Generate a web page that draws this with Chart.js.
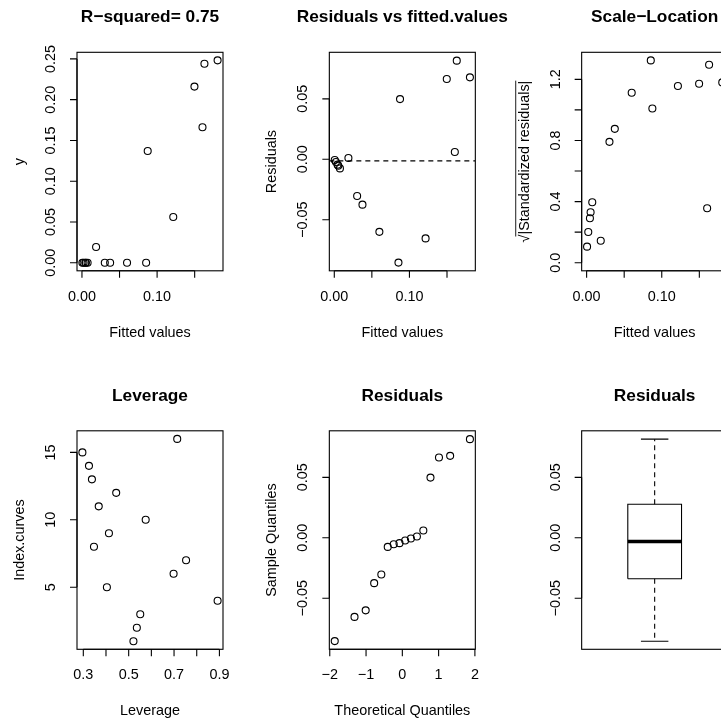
<!DOCTYPE html>
<html>
<head>
<meta charset="utf-8">
<title>lm diagnostics</title>
<script src="https://cdn.jsdelivr.net/npm/chart.js@4.4.1/dist/chart.umd.min.js"></script>
<style>
  html, body { margin: 0; padding: 0; background: #fff; }
  #wrap { position: relative; width: 721px; height: 719px; overflow: hidden; }
  #wrap canvas { position: absolute; left: 0; top: 0; }
</style>
</head>
<body>
<div id="wrap">
  <canvas id="fitPlot" width="760" height="760"></canvas>
  <canvas id="residPlot" width="760" height="760"></canvas>
  <canvas id="scalePlot" width="760" height="760"></canvas>
  <canvas id="levPlot" width="760" height="760"></canvas>
  <canvas id="qqPlot" width="760" height="760"></canvas>
  <canvas id="boxPlot" width="760" height="760"></canvas>
</div>
<script>
// one entry per curve, in the order of the fitted values
const fittedValues = [0.0006, 0.0022, 0.0044, 0.0053, 0.0075, 0.0188, 0.0304, 0.0375, 0.0600, 0.0854, 0.0875, 0.1215, 0.1497, 0.1604, 0.1630, 0.1805];
const observedY    = [0, 0, 0, 0, 0, 0.0193, 0, 0, 0, 0, 0.1370, 0.0561, 0.2160, 0.1662, 0.2440, 0.2482];
const residuals    = [-0.0006, -0.0022, -0.0044, -0.0053, -0.0075, 0.0011, -0.0304, -0.0375, -0.0600, -0.0854, 0.0498, -0.0654, 0.0664, 0.0060, 0.0816, 0.0678];
const sqrtStdResid = [0.105, 0.201, 0.291, 0.330, 0.396, 0.144, 0.791, 0.876, 1.112, 1.324, 1.009, 1.156, 1.171, 0.356, 1.296, 1.180];
const residLevel = -0.0013;

// hat values by curve index
const curveIndex = [1, 2, 3, 4, 5, 6, 7, 8, 9, 10, 11, 12, 13, 14, 15, 16];
const leverage   = [0.521, 0.536, 0.551, 0.892, 0.404, 0.698, 0.753, 0.347, 0.413, 0.575, 0.368, 0.445, 0.338, 0.325, 0.296, 0.714];

// normal quantiles for n = 16
const theoQuantiles = [-1.863, -1.318, -1.010, -0.776, -0.579, -0.402, -0.237, -0.078, 0.078, 0.237, 0.402, 0.579, 0.776, 1.010, 1.318, 1.863];
const sampleQuantiles = residuals.slice().sort((a, b) => a - b);

// lower whisker, lower hinge, median, upper hinge, upper whisker
const boxStats = [-0.0855, -0.0339, -0.0031, 0.0278, 0.0816];

// tick positions and their labels ('' = tick only)
const fitTicks   = [0, 0.05, 0.10, 0.15];
const fitLabels  = ['0.00', '', '0.10', ''];
const yTicks     = [0, 0.05, 0.10, 0.15, 0.20, 0.25];
const yLabels    = ['0.00', '0.05', '0.10', '0.15', '0.20', '0.25'];
const resTicks   = [-0.05, 0, 0.05];
const resLabels  = ['\u22120.05', '0.00', '0.05'];
const slTicks    = [0, 0.2, 0.4, 0.6, 0.8, 1.0, 1.2];
const slLabels   = ['0.0', '', '0.4', '', '0.8', '', '1.2'];
const levTicks   = [0.3, 0.4, 0.5, 0.6, 0.7, 0.8, 0.9];
const levLabels  = ['0.3', '', '0.5', '', '0.7', '', '0.9'];
const idxTicks   = [5, 10, 15];
const idxLabels  = ['5', '10', '15'];
const qqTicks    = [-2, -1, 0, 1, 2];
const qqLabels   = ['\u22122', '\u22121', '0', '1', '2'];

// page layout (2 x 3 panels)
const CANVAS = 760;
const PANEL_W = 252.33, PANEL_H = 378.5;
const BOX_LEFT = 77, BOX_TOP = 52.3, BOX_W = 146, BOX_H = 218.5;
const FONT = '"Liberation Sans", Arial, Helvetica, sans-serif';
const AXIS_PX = 14.4, MAIN_PX = 17.3;

function rAxes(spec) {
  return {
    id: 'rAxes',
    afterDraw(chart) {
      const { ctx, chartArea: a, scales } = chart;
      ctx.save();
      ctx.strokeStyle = '#000';
      ctx.fillStyle = '#000';
      ctx.lineWidth = 1.1;
      ctx.strokeRect(a.left, a.top, a.right - a.left, a.bottom - a.top);
      ctx.font = AXIS_PX + 'px ' + FONT;
      ctx.textAlign = 'center';
      ctx.textBaseline = 'middle';

      if (spec.xTicks) {
        const px = spec.xTicks.map(v => scales.x.getPixelForValue(v));
        ctx.beginPath();
        ctx.moveTo(px[0], a.bottom);
        ctx.lineTo(px[px.length - 1], a.bottom);
        px.forEach(p => { ctx.moveTo(p, a.bottom); ctx.lineTo(p, a.bottom + 7); });
        ctx.stroke();
        spec.xLabels.forEach((t, i) => { if (t) ctx.fillText(t, px[i], a.bottom + 26); });
      }
      if (spec.yTicks) {
        const py = spec.yTicks.map(v => scales.y.getPixelForValue(v));
        ctx.beginPath();
        ctx.moveTo(a.left, py[0]);
        ctx.lineTo(a.left, py[py.length - 1]);
        py.forEach(p => { ctx.moveTo(a.left, p); ctx.lineTo(a.left - 7, p); });
        ctx.stroke();
        spec.yLabels.forEach((t, i) => {
          if (!t) return;
          ctx.save();
          ctx.translate(a.left - 26, py[i]);
          ctx.rotate(-Math.PI / 2);
          ctx.fillText(t, 0, 0);
          ctx.restore();
        });
      }
      const cx = (a.left + a.right) / 2, cy = (a.top + a.bottom) / 2;
      if (spec.xlab) ctx.fillText(spec.xlab, cx, a.bottom + 62);
      if (spec.ylab) {
        ctx.save();
        ctx.translate(a.left - 57, cy);
        ctx.rotate(-Math.PI / 2);
        if (spec.sqrtLab) {
          const root = '\u221A';
          const wr = ctx.measureText(root).width, wt = ctx.measureText(spec.ylab).width;
          const x0 = -(wr + wt) / 2;
          ctx.textAlign = 'left';
          ctx.fillText(root, x0, 0);
          ctx.fillText(spec.ylab, x0 + wr, 0);
          ctx.lineWidth = 0.9;
          ctx.beginPath();
          ctx.moveTo(x0 + wr * 0.75, -AXIS_PX * 0.62);
          ctx.lineTo(x0 + wr + wt, -AXIS_PX * 0.62);
          ctx.stroke();
        } else {
          ctx.fillText(spec.ylab, 0, 0);
        }
        ctx.restore();
      }
      if (spec.main) {
        ctx.font = 'bold ' + MAIN_PX + 'px ' + FONT;
        ctx.fillText(spec.main, cx, a.top - 35);
      }
      ctx.restore();
    }
  };
}

function points(xs, ys) {
  return {
    data: xs.map((x, i) => ({ x: x, y: ys[i] })),
    showLine: false,
    pointStyle: 'circle',
    pointRadius: 3.5,
    pointBorderWidth: 1.1,
    borderColor: '#000',
    backgroundColor: 'rgba(0,0,0,0)'
  };
}

function segment(xs, ys, width, dash) {
  return {
    data: xs.map((x, i) => ({ x: x, y: ys[i] })),
    showLine: true,
    borderColor: '#000',
    borderWidth: width,
    borderDash: dash || [],
    pointRadius: 0,
    tension: 0,
    fill: false
  };
}

function makeChart(id, col, row, datasets, xr, yr, spec) {
  const left = BOX_LEFT + col * PANEL_W, top = BOX_TOP + row * PANEL_H;
  return new Chart(document.getElementById(id), {
    type: 'scatter',
    data: { datasets: datasets },
    options: {
      responsive: false,
      animation: false,
      devicePixelRatio: 1,
      events: [],
      layout: {
        autoPadding: false,
        padding: { left: left, top: top, right: CANVAS - left - BOX_W, bottom: CANVAS - top - BOX_H }
      },
      scales: {
        x: { type: 'linear', display: false, min: xr[0], max: xr[1] },
        y: { type: 'linear', display: false, min: yr[0], max: yr[1] }
      },
      plugins: { legend: { display: false }, tooltip: { enabled: false } }
    },
    plugins: [rAxes(spec)]
  });
}

const fitRange = [-0.0066, 0.1877];
const resRange = [-0.0922, 0.0885];

makeChart('fitPlot', 0, 0, [points(fittedValues, observedY)], fitRange, [-0.0099, 0.2581], {
  main: 'R\u2212squared= 0.75', xlab: 'Fitted values', ylab: 'y',
  xTicks: fitTicks, xLabels: fitLabels, yTicks: yTicks, yLabels: yLabels
});

makeChart('residPlot', 1, 0, [
  points(fittedValues, residuals),
  segment(fitRange, [residLevel, residLevel], 1.1, [5, 4])
], fitRange, resRange, {
  main: 'Residuals vs fitted.values', xlab: 'Fitted values', ylab: 'Residuals',
  xTicks: fitTicks, xLabels: fitLabels, yTicks: resTicks, yLabels: resLabels
});

makeChart('scalePlot', 2, 0, [points(fittedValues, sqrtStdResid)], fitRange, [-0.053, 1.377], {
  main: 'Scale\u2212Location', xlab: 'Fitted values', ylab: '|Standardized residuals|', sqrtLab: true,
  xTicks: fitTicks, xLabels: fitLabels, yTicks: slTicks, yLabels: slLabels
});

makeChart('levPlot', 0, 1, [points(leverage, curveIndex)], [0.2722, 0.9158], [0.4, 16.6], {
  main: 'Leverage', xlab: 'Leverage', ylab: 'Index.curves',
  xTicks: levTicks, xLabels: levLabels, yTicks: idxTicks, yLabels: idxLabels
});

makeChart('qqPlot', 1, 1, [points(theoQuantiles, sampleQuantiles)], [-2.012, 2.012], resRange, {
  main: 'Residuals', xlab: 'Theoretical Quantiles', ylab: 'Sample Quantiles',
  xTicks: qqTicks, xLabels: qqLabels, yTicks: resTicks, yLabels: resLabels
});

// boxplot at x = 1 on a 0.5..1.5 axis
const [lo, q1, med, q3, hi] = boxStats;
const bL = 1 - 0.184, bR = 1 + 0.184, cL = 1 - 0.094, cR = 1 + 0.094;
makeChart('boxPlot', 2, 1, [
  segment([1, 1], [q3, hi], 1.1, [5, 4]),
  segment([1, 1], [q1, lo], 1.1, [5, 4]),
  segment([cL, cR], [hi, hi], 1.1),
  segment([cL, cR], [lo, lo], 1.1),
  segment([bL, bR, bR, bL, bL], [q1, q1, q3, q3, q1], 1.1),
  segment([bL, bR], [med, med], 3.5)
], [0.5, 1.5], resRange, {
  main: 'Residuals', yTicks: resTicks, yLabels: resLabels
});
</script>
</body>
</html>
